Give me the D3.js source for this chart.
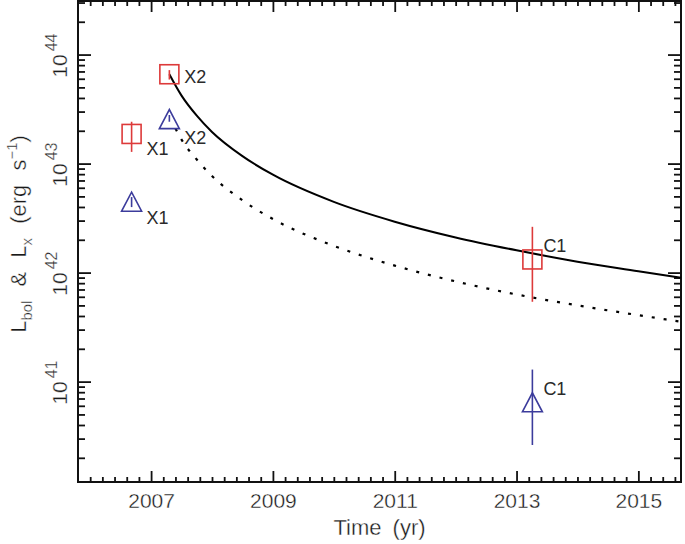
<!DOCTYPE html>
<html>
<head>
<meta charset="utf-8">
<script src="https://cdn.jsdelivr.net/npm/d3@7"></script>
<style>
  html, body { margin: 0; padding: 0; background: #fff; }
  svg { display: block; }
  text { font-family: "Liberation Sans", Arial, sans-serif; fill: #2a2a2a; }
  .thin { stroke: #fff; stroke-width: 0.35px; fill: #1a1a1a; }
</style>
</head>
<body>
<svg id="chart" width="685" height="544"></svg>
<script>
// ---------- data ----------
const xDomain = [2005.8, 2015.7];
const yDomain = [1.2e40, 3.1e44];
const xTickYears = [2007, 2009, 2011, 2013, 2015];
const yTickExponents = [41, 42, 43, 44];

// L_bol (red squares)
const bolNames = ["X1", "X2", "C1"];
const bolYears = [2006.68, 2007.30, 2013.26];
const bolValues = [1.87e43, 6.6e43, 1.32e42];
const bolErrLow = [1.28e43, 5.9e43, 5.4e41];
const bolErrHigh = [2.42e43, 7.2e43, 2.63e42];

// L_X (blue triangles)
const xrayNames = ["X1", "X2", "C1"];
const xrayYears = [2006.68, 2007.30, 2013.26];
const xrayValues = [4.47e42, 2.56e43, 6.46e40];
const xrayErrLow = [3.99e42, 2.42e43, 2.62e40];
const xrayErrHigh = [4.93e42, 2.79e43, 1.29e41];

// model curves
const solidYears = [2007.3, 2007.5, 2007.75, 2008.0, 2008.5, 2009, 2010, 2011, 2012, 2013, 2014, 2015, 2015.7];
const solidValues = [6.6e43, 4.2e43, 2.75e43, 1.95e43, 1.17e43, 7.9e42, 4.45e42, 2.93e42, 2.1e42, 1.6e42, 1.26e42, 1.03e42, 8.95e41];
const dottedYears = [2007.4, 2007.5, 2007.75, 2008.0, 2008.5, 2009, 2010, 2011, 2012, 2013, 2014, 2015, 2015.7];
const dottedValues = [2.1e43, 1.66e43, 1.09e43, 7.7e42, 4.6e42, 3.1e42, 1.76e42, 1.16e42, 8.3e41, 6.3e41, 5.0e41, 4.07e41, 3.54e41];

// ---------- layout ----------
const red = "#dd3a3a";
const blue = "#3c3c9c";
const mLeft = 78, mRight = 681, mTop = 1, mBottom = 482;

const svg = d3.select("#chart");
const x = d3.scaleLinear().domain(xDomain).range([mLeft, mRight]);
const y = d3.scaleLog().domain(yDomain).range([mBottom, mTop]);

// ---------- axes (ticks on all four sides, inward) ----------
const xMajor = xTickYears;
const xMinor = d3.range(2005.8, 2015.71, 0.2).map(v => +v.toFixed(1))
  .filter(v => !xMajor.includes(v) && v > xDomain[0] + 0.01 && v < xDomain[1]);
const yMajor = yTickExponents.map(e => Math.pow(10, e));
const yMinor = [];
for (let e = 40; e <= 44; e++) for (let m = 2; m <= 9; m++) {
  const v = m * Math.pow(10, e);
  if (v > yDomain[0] && v < yDomain[1]) yMinor.push(v);
}

const axisStyle = g => { g.select(".domain").remove(); g.selectAll("line").attr("stroke", "#111").attr("stroke-width", 1.8); };

svg.append("g").attr("transform", `translate(0,${mBottom})`)
  .call(d3.axisBottom(x).tickValues(xMajor).tickSize(-11).tickPadding(11).tickFormat(d3.format("d")))
  .call(axisStyle)
  .call(g => g.selectAll("text")
    .attr("class", "thin")
    .attr("font-size", 21)
    .style("font-family", '"Liberation Sans", Arial, sans-serif'));
svg.append("g").attr("transform", `translate(0,${mBottom})`)
  .call(d3.axisBottom(x).tickValues(xMinor).tickSize(-5).tickFormat("")).call(axisStyle);
svg.append("g").attr("transform", `translate(0,${mTop})`)
  .call(d3.axisTop(x).tickValues(xMajor).tickSize(-11).tickFormat("")).call(axisStyle);
svg.append("g").attr("transform", `translate(0,${mTop})`)
  .call(d3.axisTop(x).tickValues(xMinor).tickSize(-5).tickFormat("")).call(axisStyle);

svg.append("g").attr("transform", `translate(${mLeft},0)`)
  .call(d3.axisLeft(y).tickValues(yMajor).tickSize(-13).tickFormat("")).call(axisStyle);
svg.append("g").attr("transform", `translate(${mLeft},0)`)
  .call(d3.axisLeft(y).tickValues(yMinor).tickSize(-7).tickFormat("")).call(axisStyle);
svg.append("g").attr("transform", `translate(${mRight},0)`)
  .call(d3.axisRight(y).tickValues(yMajor).tickSize(-13).tickFormat("")).call(axisStyle);
svg.append("g").attr("transform", `translate(${mRight},0)`)
  .call(d3.axisRight(y).tickValues(yMinor).tickSize(-7).tickFormat("")).call(axisStyle);

// frame
svg.append("rect").attr("x", mLeft).attr("y", mTop).attr("width", mRight - mLeft).attr("height", mBottom - mTop)
  .attr("fill", "none").attr("stroke", "#111").attr("stroke-width", 2);

// y tick labels 10^n rotated
yTickExponents.forEach(e => {
  const yy = y(Math.pow(10, e));
  const t = svg.append("text").attr("class", "thin")
    .attr("transform", `translate(67,${yy + 1}) rotate(-90)`)
    .attr("text-anchor", "middle")
    .attr("font-size", 21);
  t.append("tspan").text("10");
  t.append("tspan").attr("dx", 3).attr("dy", -10).attr("font-size", 16).text(String(e));
});

// axis titles
svg.append("text").attr("class", "thin")
  .attr("transform", `translate(${(mLeft + mRight) / 2},535)`)
  .attr("text-anchor", "middle")
  .attr("font-size", 22).attr("word-spacing", 5).text("Time (yr)");

const yt = svg.append("text").attr("class", "thin")
  .attr("transform", `translate(26,234) rotate(-90)`)
  .attr("text-anchor", "middle").attr("font-size", 22).attr("word-spacing", 8);
yt.append("tspan").text("L");
yt.append("tspan").attr("dy", 6).attr("font-size", 15).text("bol");
yt.append("tspan").attr("dy", -6).text(" & L");
yt.append("tspan").attr("dy", 6).attr("font-size", 15).text("x");
yt.append("tspan").attr("dy", -6).text(" (erg s");
yt.append("tspan").attr("dy", -9).attr("font-size", 15).text("−1");
yt.append("tspan").attr("dy", 9).text(")");

// ---------- curves ----------
const line = d3.line().x(d => x(d[0])).y(d => y(d[1])).curve(d3.curveMonotoneX);
const plot = svg.append("g");
plot.append("path").datum(solidYears.map((t, i) => [t, solidValues[i]]))
  .attr("d", line).attr("fill", "none").attr("stroke", "#000").attr("stroke-width", 2);
plot.append("path").datum(dottedYears.map((t, i) => [t, dottedValues[i]]))
  .attr("d", line).attr("fill", "none").attr("stroke", "#000").attr("stroke-width", 2.2)
  .attr("stroke-dasharray", "3,9");

// ---------- L_bol squares ----------
const sq = 19;
bolYears.forEach((t, i) => {
  const cx = x(t), cy = y(bolValues[i]);
  plot.append("line").attr("x1", cx).attr("x2", cx).attr("y1", y(bolErrLow[i])).attr("y2", y(bolErrHigh[i]))
    .attr("stroke", red).attr("stroke-width", 1.6);
  plot.append("rect").attr("x", cx - sq / 2).attr("y", cy - sq / 2).attr("width", sq).attr("height", sq)
    .attr("fill", "none").attr("stroke", red).attr("stroke-width", 1.6);
});

// ---------- L_X triangles ----------
const tr = 10;
xrayYears.forEach((t, i) => {
  const cx = x(t), cy = y(xrayValues[i]);
  plot.append("line").attr("x1", cx).attr("x2", cx).attr("y1", y(xrayErrLow[i])).attr("y2", y(xrayErrHigh[i]))
    .attr("stroke", blue).attr("stroke-width", 1.6);
  plot.append("path").attr("d", `M${cx - tr},${cy + 9.5}L${cx},${cy - 9.5}L${cx + tr},${cy + 9.5}Z`)
    .attr("fill", "none").attr("stroke", blue).attr("stroke-width", 1.6);
});

// ---------- point labels ----------
const bolLabelDx = [15, 15, 11];
const bolLabelDy = [16, 4, -12];
const xrayLabelDx = [15, 15, 11];
const xrayLabelDy = [18, 20, -12];
bolNames.forEach((n, i) => {
  svg.append("text").attr("x", x(bolYears[i]) + bolLabelDx[i]).attr("y", y(bolValues[i]) + bolLabelDy[i])
    .attr("font-size", 18).attr("fill", "#111").attr("dominant-baseline", "middle").text(n);
});
xrayNames.forEach((n, i) => {
  svg.append("text").attr("x", x(xrayYears[i]) + xrayLabelDx[i]).attr("y", y(xrayValues[i]) + xrayLabelDy[i])
    .attr("font-size", 18).attr("fill", "#111").attr("dominant-baseline", "middle").text(n);
});
</script>
</body>
</html>
